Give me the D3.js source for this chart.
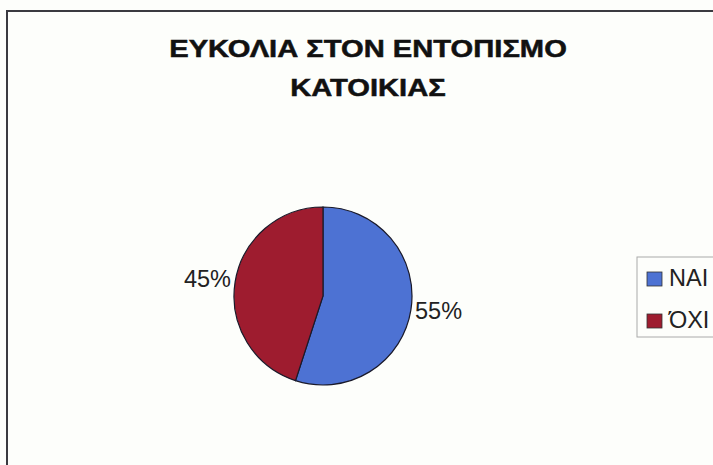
<!DOCTYPE html>
<html>
<head>
<meta charset="utf-8">
<script src="https://cdn.jsdelivr.net/npm/d3@7"></script>
<style>
html,body{margin:0;padding:0;background:#fdfefb;}
svg{display:block;}
</style>
</head>
<body>
<svg id="chart" width="713" height="465"></svg>
<script>
const titleLines = ["ΕΥΚΟΛΙΑ ΣΤΟΝ ΕΝΤΟΠΙΣΜΟ", "ΚΑΤΟΙΚΙΑΣ"];
const categories = ["ΝΑΙ", "ΌΧΙ"];
const values = [55, 45];
const colors = ["#4d72d3", "#9e1c2f"];

const svg = d3.select("#chart");
const font = "'Liberation Sans', Arial, sans-serif";

// frame
svg.append("rect").attr("x", 7).attr("y", 11).attr("width", 720).attr("height", 470)
  .attr("fill", "#fdfefb").attr("stroke", "#3a3a40").attr("stroke-width", 2);

// title (horizontally widened like the reference)
const titleY = [57, 96];
titleLines.forEach((t, i) => {
  svg.append("text")
    .attr("transform", `translate(368,${titleY[i]}) scale(1.19,1)`)
    .attr("text-anchor", "middle")
    .attr("font-family", font).attr("font-weight", "bold").attr("font-size", 24.5)
    .attr("fill", "#111").attr("stroke", "#111").attr("stroke-width", 0.5)
    .text(t);
});

// pie
const cx = 323, cy = 296, r = 89;
const pie = d3.pie().sort(null).value(d => d)(values);
const arc = d3.arc().innerRadius(0).outerRadius(r);
const g = svg.append("g").attr("transform", `translate(${cx},${cy})`);
g.selectAll("path").data(pie).join("path")
  .attr("d", arc).attr("fill", (d, i) => colors[i])
  .attr("stroke", "#1a1a2a").attr("stroke-width", 1.2);

const total = d3.sum(values);
g.selectAll("text").data(pie).join("text")
  .attr("font-family", font).attr("font-size", 23.5).attr("fill", "#222")
  .attr("text-anchor", (d, i) => i === 0 ? "start" : "end")
  .attr("x", (d, i) => i === 0 ? r + 3 : -r - 3)
  .attr("y", (d, i) => i === 0 ? 23 : -9)
  .text(d => Math.round(d.value / total * 100) + "%");

// legend
const lg = svg.append("g");
lg.append("rect").attr("x", 637).attr("y", 257).attr("width", 90).attr("height", 80)
  .attr("fill", "#fdfefb").attr("stroke", "#aaa").attr("stroke-width", 1);
const rows = lg.selectAll("g.row").data(categories).join("g")
  .attr("transform", (d, i) => `translate(647,${272 + i * 42})`);
rows.append("rect").attr("width", 15).attr("height", 14)
  .attr("fill", (d, i) => colors[i]).attr("stroke", "#333").attr("stroke-width", 0.8);
rows.append("text").attr("x", 22).attr("y", 14)
  .attr("font-family", font).attr("font-size", 23.5).attr("fill", "#222")
  .text(d => d);
</script>
</body>
</html>
